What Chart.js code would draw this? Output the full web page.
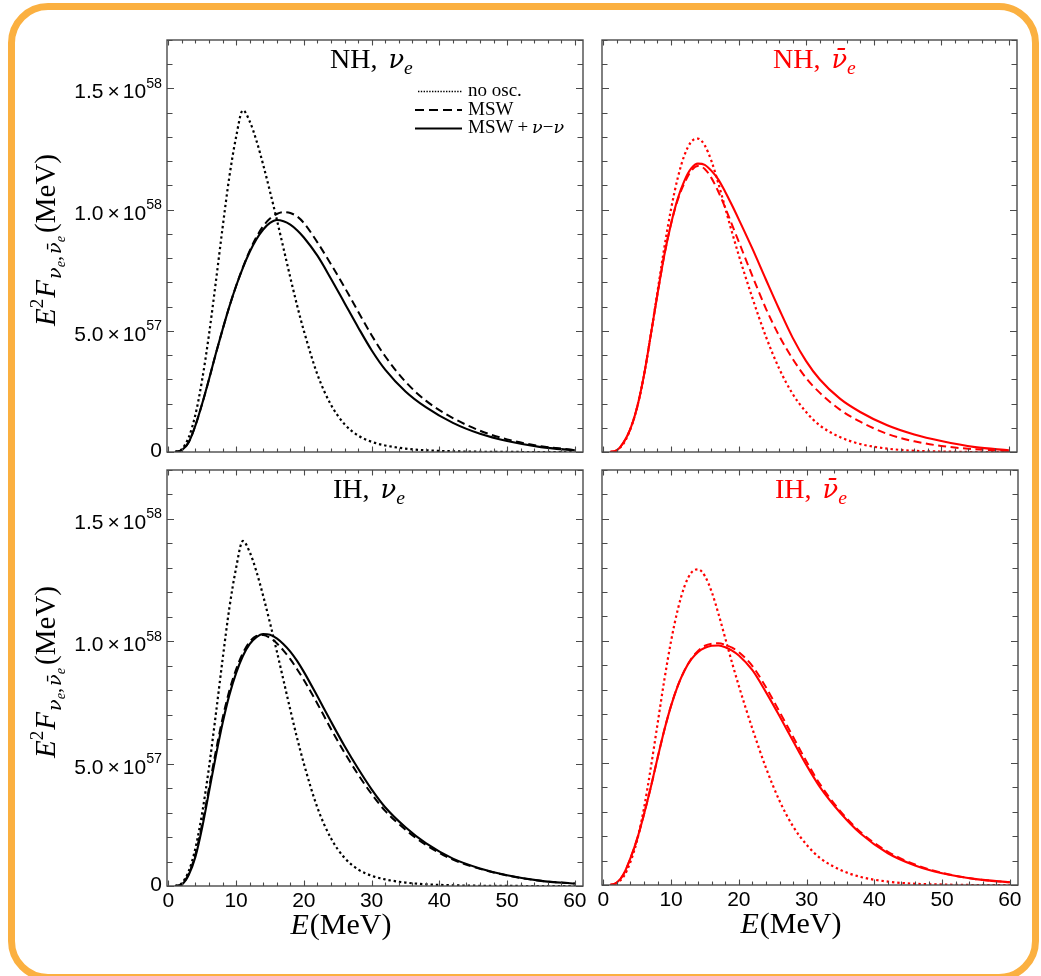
<!DOCTYPE html>
<html>
<head>
<meta charset="utf-8">
<script src="https://cdn.jsdelivr.net/npm/chart.js@4.4.1/dist/chart.umd.min.js"></script>
<style>
    html, body { margin: 0; padding: 0; background: #fff; }
    #page { position: relative; width: 1041px; height: 976px; overflow: hidden; background: #fff; }
    #frame { position: absolute; left: 8px; top: 3px; width: 1031px; height: 978px; box-sizing: border-box;
             border: 7px solid #fbb040; border-radius: 40px; }
    canvas { position: absolute; }
</style>
</head>
<body>
<div id="page"><div id="frame"></div></div>
<script>
// energy grid (MeV), shared by every curve
const energy = [1, 2, 3, 4, 5, 6, 7, 8, 9, 10, 11, 12, 13, 14, 15, 16, 17, 18, 19, 20,
                22, 24, 26, 28, 30, 32, 35, 38, 42, 46, 50, 55, 60];

// E^2 F values in units of 1e57 MeV
const noOscNue = [0, 0.12, 0.6, 1.55, 3.0, 4.85, 7.0, 9.25, 11.35, 13.0, 14.1, 13.65, 12.85, 11.85, 10.75, 9.6, 8.4, 7.2, 6.05, 5.0,
                  3.2, 1.95, 1.15, 0.68, 0.42, 0.27, 0.14, 0.07, 0.03, 0.01, 0.003, 0, 0];
const noOscNuebar = [0, 0.08, 0.35, 0.95, 1.85, 3.15, 4.8, 6.6, 8.4, 10.0, 11.3, 12.25, 12.8, 12.93, 12.65, 12.0, 11.1, 10.1, 9.1, 8.15,
                     6.4, 4.8, 3.45, 2.4, 1.65, 1.1, 0.62, 0.33, 0.14, 0.05, 0.02, 0, 0];

const nhNueMsw = [0, 0.08, 0.4, 1.1, 2.0, 3.0, 4.05, 5.05, 6.0, 6.85, 7.62, 8.3, 8.87, 9.32, 9.63, 9.82, 9.9, 9.86, 9.72, 9.45,
                  8.65, 7.75, 6.8, 5.8, 4.82, 3.95, 2.9, 2.12, 1.4, 0.88, 0.52, 0.24, 0.08];
const nhNueMix = [0, 0.08, 0.4, 1.1, 2.0, 3.0, 4.05, 5.05, 6.0, 6.85, 7.6, 8.25, 8.78, 9.18, 9.45, 9.57, 9.52, 9.38, 9.15, 8.85,
                  8.1, 7.15, 6.15, 5.15, 4.2, 3.4, 2.5, 1.85, 1.2, 0.75, 0.45, 0.2, 0.07];

const nhNuebarMsw = [0, 0.07, 0.4, 0.95, 1.85, 3.15, 4.8, 6.5, 8.1, 9.4, 10.4, 11.1, 11.6, 11.8, 11.68, 11.3, 10.75, 10.1, 9.4, 8.7,
                     7.3, 5.95, 4.8, 3.85, 3.05, 2.45, 1.75, 1.25, 0.75, 0.44, 0.25, 0.11, 0.04];
const nhNuebarMix = [0, 0.07, 0.4, 0.95, 1.85, 3.15, 4.8, 6.5, 8.1, 9.4, 10.45, 11.2, 11.7, 11.9, 11.85, 11.6, 11.25, 10.75, 10.2, 9.62,
                     8.42, 7.15, 5.9, 4.72, 3.75, 3.0, 2.2, 1.65, 1.1, 0.72, 0.45, 0.2, 0.07];

const ihNueMsw = [0, 0.07, 0.5, 1.3, 2.55, 4.0, 5.5, 6.85, 7.98, 8.85, 9.52, 9.98, 10.22, 10.26, 10.14, 9.92, 9.62, 9.27, 8.86, 8.42,
                  7.45, 6.42, 5.45, 4.56, 3.76, 3.07, 2.3, 1.68, 1.08, 0.7, 0.43, 0.21, 0.1];
const ihNueMix = [0, 0.07, 0.45, 1.2, 2.4, 3.85, 5.3, 6.65, 7.8, 8.7, 9.4, 9.88, 10.17, 10.3, 10.27, 10.12, 9.88, 9.58, 9.2, 8.75,
                  7.75, 6.72, 5.72, 4.8, 3.95, 3.22, 2.4, 1.75, 1.12, 0.72, 0.44, 0.21, 0.1];

const ihNuebarMsw = [0, 0.1, 0.45, 1.1, 1.9, 2.9, 4.0, 5.2, 6.35, 7.35, 8.17, 8.8, 9.28, 9.6, 9.8, 9.88, 9.9, 9.84, 9.72, 9.54,
                     8.97, 8.1, 7.1, 6.07, 5.05, 4.12, 3.02, 2.16, 1.36, 0.84, 0.5, 0.24, 0.11];
const ihNuebarMix = [0, 0.1, 0.45, 1.1, 1.9, 2.9, 4.0, 5.2, 6.35, 7.35, 8.17, 8.8, 9.25, 9.55, 9.72, 9.8, 9.81, 9.74, 9.6, 9.4,
                     8.8, 7.9, 6.92, 5.9, 4.9, 4.0, 2.95, 2.1, 1.3, 0.8, 0.48, 0.24, 0.11];

const Y_UNIT_EXP = 57;
const xTicks = [0, 10, 20, 30, 40, 50, 60];
const yTicks = [0, 5, 10, 15];
const legendLabels = ['no osc.', 'MSW', 'MSW + \u03bd\u2212\u03bd'];

const SERIF = "'Liberation Serif', 'DejaVu Serif', serif";
const GREEK = "'DejaVu Serif', serif";
const SANS = "'Liberation Sans', Arial, sans-serif";
const PAD = { l: 160, t: 40, r: 22, b: 95 };

const panels = [
    { area: { l: 167, t: 40, r: 583, b: 452 }, color: '#000', hier: 'NH,', bar: false,
      series: [noOscNue, nhNueMsw, nhNueMix], showY: true, showX: false, legend: true, titleX: 330, yTitleC: 240 },
    { area: { l: 602, t: 40, r: 1017, b: 452 }, color: '#ff0000', hier: 'NH,', bar: true,
      series: [noOscNuebar, nhNuebarMsw, nhNuebarMix], showY: false, showX: false, titleX: 773 },
    { area: { l: 167, t: 470, r: 583, b: 886 }, color: '#000', hier: 'IH,', bar: false,
      series: [noOscNue, ihNueMsw, ihNueMix], showY: true, showX: true, titleX: 333, yTitleC: 672, xTitleC: 341 },
    { area: { l: 602, t: 470, r: 1018, b: 885 }, color: '#ff0000', hier: 'IH,', bar: true,
      series: [noOscNuebar, ihNuebarMsw, ihNuebarMix], showY: false, showX: true, titleX: 775, xTitleC: 791 }
];

const lineStyles = [
    { dash: [2.4, 2.9], width: 2.2 },
    { dash: [8, 4.5], width: 2 },
    { dash: [], width: 2.1 }
];

function fontFor(p, size) {
    const fam = p.sans ? SANS : (p.gr ? GREEK : SERIF);
    return (p.it ? 'italic ' : '') + (size * (p.s || 1)).toFixed(2) + 'px ' + fam;
}

function measureRich(ctx, parts, size) {
    let w = 0;
    parts.forEach(p => {
        ctx.font = fontFor(p, size);
        w += ctx.measureText(p.t).width + (p.gap || 0);
    });
    return w;
}

function drawRich(ctx, parts, x, y, size, align) {
    let cx = x;
    if (align === 'center') cx -= measureRich(ctx, parts, size) / 2;
    if (align === 'right') cx -= measureRich(ctx, parts, size);
    parts.forEach(p => {
        ctx.font = fontFor(p, size);
        ctx.fillText(p.t, cx, y + (p.dy || 0) * size);
        cx += ctx.measureText(p.t).width + (p.gap || 0);
    });
}

function tickLabelParts(v) {
    if (v === 0) return [{ t: '0', sans: true }];
    const real = v * Math.pow(10, Y_UNIT_EXP);
    const exp = Math.floor(Math.log10(real) + 1e-9);
    const mant = (real / Math.pow(10, exp)).toFixed(1);
    return [
        { t: mant, sans: true, gap: 4 },
        { t: '\u00d7', sans: true, gap: 3 },
        { t: '10', sans: true },
        { t: String(exp), sans: true, s: 0.68, dy: -0.5 }
    ];
}

const panelDeco = {
    id: 'panelDeco',
    afterDraw(chart, args, opts) {
        const ctx = chart.ctx;
        const a = chart.chartArea;
        const xs = chart.scales.x, ys = chart.scales.y;
        const ox = opts.area.l - PAD.l, oy = opts.area.t - PAD.t;
        ctx.save();

        // frame and inward ticks on all four sides
        ctx.strokeStyle = '#4a4a4a';
        ctx.lineWidth = 1.4;
        ctx.setLineDash([]);
        ctx.strokeRect(a.left, a.top, a.right - a.left, a.bottom - a.top);
        ctx.lineWidth = 1.1;
        ctx.beginPath();
        for (let v = 0; v <= 60; v += 2) {
            const x = Math.round(xs.getPixelForValue(v)) + 0.5;
            const len = v % 10 === 0 ? 5.5 : 3.5;
            ctx.moveTo(x, a.bottom); ctx.lineTo(x, a.bottom - len);
            ctx.moveTo(x, a.top); ctx.lineTo(x, a.top + len);
        }
        for (let v = 0; v <= 17; v += 1) {
            const y = Math.round(ys.getPixelForValue(v)) + 0.5;
            const len = v % 5 === 0 ? 7 : 5.5;
            ctx.moveTo(a.left, y); ctx.lineTo(a.left + len, y);
            ctx.moveTo(a.right, y); ctx.lineTo(a.right - len, y);
        }
        ctx.stroke();

        ctx.fillStyle = '#000';
        ctx.textBaseline = 'alphabetic';
        ctx.textAlign = 'left';

        if (opts.showY) {
            yTicks.forEach(v => {
                const y = ys.getPixelForValue(v);
                drawRich(ctx, tickLabelParts(v), a.left - 5, y + (v === 0 ? 5 : 10), 21, 'right');
            });
            // rotated y title
            ctx.save();
            ctx.translate(55 - ox, opts.yTitleC - oy);
            ctx.rotate(-Math.PI / 2);
            drawRich(ctx, [
                { t: 'E', it: true },
                { t: '2', s: 0.66, dy: -0.42, gap: 1 },
                { t: 'F', it: true, gap: 1 },
                { t: '\u03bd', it: true, gr: true, s: 0.66, dy: 0.22 },
                { t: 'e', it: true, s: 0.5, dy: 0.36 },
                { t: ',', s: 0.68, dy: 0.22, gap: 2 },
                { t: '\u03bd\u0304', it: true, gr: true, s: 0.66, dy: 0.22 },
                { t: 'e', it: true, s: 0.5, dy: 0.36, gap: 3 },
                { t: '(MeV)' }
            ], 0, 0, 29, 'center');
            ctx.restore();
        }

        if (opts.showX) {
            xTicks.forEach(v => {
                drawRich(ctx, [{ t: String(v), sans: true }], xs.getPixelForValue(v), a.bottom + 21, 21, 'center');
            });
            drawRich(ctx, [{ t: 'E', it: true, gap: 1 }, { t: '(MeV)' }], opts.xTitleC - ox, opts.area.b + 48 - oy, 30, 'center');
        }

        // panel title
        ctx.fillStyle = opts.color;
        drawRich(ctx, [
            { t: opts.hier, gap: 11 },
            { t: opts.bar ? '\u03bd\u0304' : '\u03bd', it: true, gr: true, s: 0.92 },
            { t: 'e', it: true, s: 0.7, dy: 0.2 }
        ], opts.titleX - ox, opts.area.t + 28 - oy, 28, 'left');

        if (opts.legend) {
            const rows = [91.5, 110, 128.5];
            const texts = [
                [{ t: legendLabels[0] }],
                [{ t: legendLabels[1] }],
                [{ t: 'MSW', gap: 4 }, { t: '+', gap: 4 }, { t: '\u03bd', it: true, gr: true, s: 0.92 },
                 { t: '\u2212' }, { t: '\u03bd', it: true, gr: true, s: 0.92 }]
            ];
            const dashes = [[1.4, 1.4], [9, 5], []];
            const widths = [1.4, 2.2, 2.2];
            ctx.strokeStyle = '#000';
            rows.forEach((ry, i) => {
                ctx.beginPath();
                ctx.lineWidth = widths[i];
                ctx.setLineDash(dashes[i]);
                ctx.moveTo((i === 0 ? 418 : 415) - ox, ry - oy);
                ctx.lineTo(462 - ox, ry - oy);
                ctx.stroke();
                ctx.fillStyle = '#000';
                drawRich(ctx, texts[i], 468 - ox, ry + 4.5 - oy, 19, 'left');
            });
        }
        ctx.restore();
    }
};

const page = document.getElementById('page');

panels.forEach(p => {
    const canvas = document.createElement('canvas');
    const w = p.area.r - p.area.l + PAD.l + PAD.r;
    const h = p.area.b - p.area.t + PAD.t + PAD.b;
    canvas.width = w;
    canvas.height = h;
    canvas.style.left = (p.area.l - PAD.l) + 'px';
    canvas.style.top = (p.area.t - PAD.t) + 'px';
    canvas.style.width = w + 'px';
    canvas.style.height = h + 'px';
    page.appendChild(canvas);

    new Chart(canvas.getContext('2d'), {
        type: 'line',
        data: {
            datasets: p.series.map((vals, i) => ({
                data: energy.map((e, j) => ({ x: e, y: vals[j] })),
                borderColor: p.color,
                borderWidth: lineStyles[i].width,
                borderDash: lineStyles[i].dash,
                pointRadius: 0,
                fill: false,
                cubicInterpolationMode: 'monotone'
            }))
        },
        options: {
            responsive: false,
            animation: false,
            events: [],
            layout: { padding: { left: PAD.l, top: PAD.t, right: PAD.r, bottom: PAD.b } },
            scales: {
                x: { type: 'linear', min: -0.2, max: 61.2, display: false },
                y: { type: 'linear', min: 0, max: 17, display: false }
            },
            plugins: {
                legend: { display: false },
                tooltip: { enabled: false },
                panelDeco: Object.assign({}, p)
            }
        },
        plugins: [panelDeco]
    });
});
</script>
</body>
</html>
